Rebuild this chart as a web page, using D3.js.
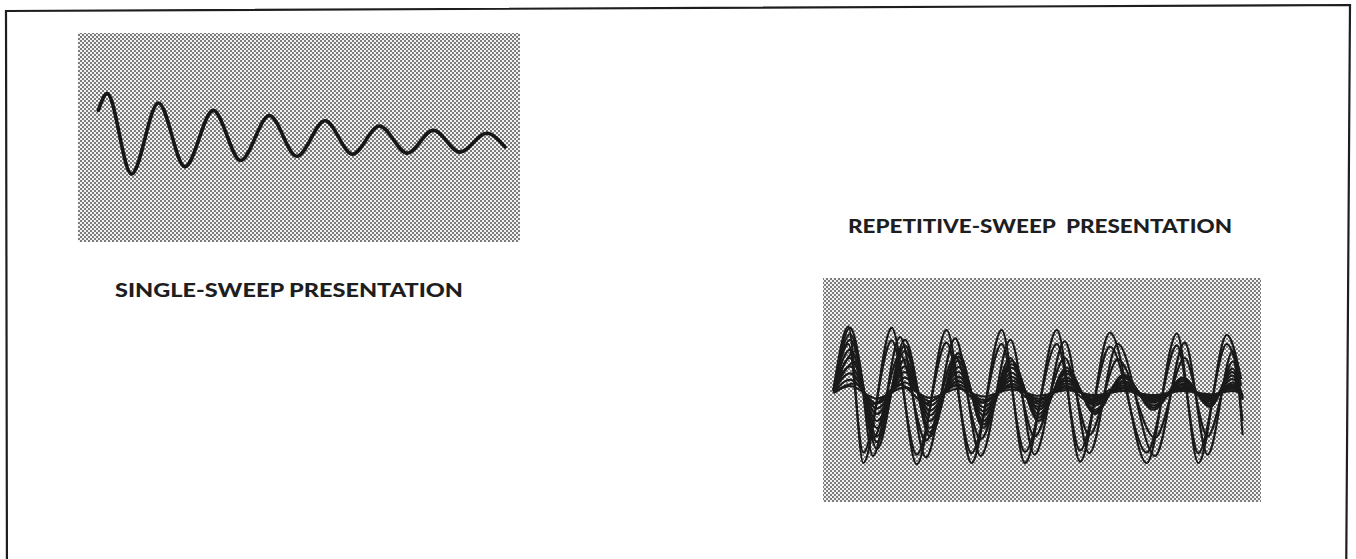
<!DOCTYPE html>
<html>
<head>
<meta charset="utf-8">
<title>Single-sweep / repetitive-sweep</title>
<script src="https://d3js.org/d3.v7.min.js"></script>
<style>
  body { margin: 0; background: #fff; }
  text { font-family: Lato, "Open Sans", sans-serif; font-weight: 900; fill: #1e1e1e; }
</style>
</head>
<body>
<div id="fig"></div>
<script>
// ---- data (time 0..100 across each screen, amplitude in screen units) ----
var singleTimes = [4.6, 6.6, 12.1, 18.2, 24.2, 30.6, 36.8, 43.3, 49.5, 55.9, 62.1, 68.2, 74.5, 80.4, 86.4, 92.5, 96.6];
var singleAmps  = [0.26, 0.42, -0.35, 0.33, -0.28, 0.26, -0.22, 0.21, -0.18, 0.16, -0.16, 0.11, -0.15, 0.07, -0.14, 0.04, -0.09];

// repetitive sweep: the decaying "sheaf" traces share these extremum times
var sheafTimes = [2.4, 6.2, 12.3, 18.7, 24.4, 30.9, 36.6, 43.1, 49.2, 55.6, 62.1, 68.6, 75.4, 82.2, 88.4, 93.5, 95.8];
var sheaf1 = [0.05, 0.93, -0.80, 0.76, -0.62, 0.57, -0.50, 0.46, -0.40, 0.36, -0.30, 0.26, -0.24, 0.22, -0.20, 0.35, -0.10];
var sheaf2 = [0.05, 0.84, -0.70, 0.68, -0.56, 0.52, -0.45, 0.41, -0.35, 0.32, -0.27, 0.24, -0.21, 0.20, -0.18, 0.30, -0.09];
var sheaf3 = [0.04, 0.76, -0.62, 0.60, -0.50, 0.46, -0.40, 0.36, -0.30, 0.28, -0.24, 0.22, -0.18, 0.17, -0.15, 0.25, -0.08];
var sheaf4 = [0.03, 0.62, -0.50, 0.48, -0.40, 0.37, -0.32, 0.29, -0.24, 0.22, -0.18, 0.17, -0.14, 0.13, -0.12, 0.20, -0.06];
var sheaf5 = [0.03, 0.50, -0.40, 0.38, -0.32, 0.30, -0.26, 0.23, -0.20, 0.18, -0.15, 0.14, -0.12, 0.11, -0.10, 0.15, -0.05];
var sheaf6 = [0.02, 0.38, -0.30, 0.30, -0.25, 0.23, -0.20, 0.18, -0.15, 0.14, -0.12, 0.11, -0.09, 0.08, -0.08, 0.12, -0.04];
var sheaf7 = [0.02, 0.28, -0.22, 0.22, -0.18, 0.17, -0.14, 0.13, -0.11, 0.10, -0.09, 0.08, -0.07, 0.06, -0.06, 0.09, -0.03];
var sheaf8 = [0.01, 0.19, -0.15, 0.15, -0.12, 0.12, -0.10, 0.09, -0.08, 0.07, -0.06, 0.06, -0.05, 0.05, -0.04, 0.06, -0.02];
var sheaf9 = [0.00, 0.10, -0.08, 0.08, -0.07, 0.06, -0.05, 0.05, -0.04, 0.04, -0.03, 0.03, -0.03, 0.03, -0.02, 0.03, -0.01];

// the big, barely decaying traces that make the tall loops
var loopTimesA = [2.4, 5.8, 9.2, 15.7, 21.4, 28.2, 33.9, 40.8, 46.1, 53.4, 58.7, 65.5, 73.9, 80.8, 85.7, 92.2, 95.5];
var loopTimesB = [2.4, 7.5, 11.4, 17.6, 23.5, 30.2, 36.0, 42.8, 48.3, 55.2, 60.8, 67.3, 75.8, 82.6, 87.8, 93.6, 95.8];
var loopA1 = [0.05, 0.95, -1.00, 0.93, -1.02, 0.90, -1.00, 0.90, -1.00, 0.90, -0.98, 0.86, -1.00, 0.85, -1.00, 0.83, 0.20];
var loopA2 = [0.04, 0.70, -0.85, 0.75, -0.88, 0.72, -0.86, 0.70, -0.84, 0.70, -0.82, 0.66, -0.85, 0.68, -0.86, 0.70, 0.10];
var loopB1 = [0.03, 0.60, -0.90, 0.80, -0.92, 0.78, -0.90, 0.76, -0.88, 0.74, -0.86, 0.70, -0.90, 0.72, -0.88, 0.60, -0.60];
var loopB2 = [0.02, 0.45, -0.65, 0.55, -0.68, 0.52, -0.66, 0.50, -0.62, 0.50, -0.60, 0.48, -0.64, 0.50, -0.62, 0.45, -0.40];
var loopB3 = [0.01, 0.14, -0.16, 0.12, -0.15, 0.11, -0.14, 0.10, -0.13, 0.10, -0.12, 0.09, -0.12, 0.09, -0.11, 0.08, -0.05];

var repTraces = [
  {t: sheafTimes, a: sheaf1}, {t: sheafTimes, a: sheaf2}, {t: sheafTimes, a: sheaf3},
  {t: sheafTimes, a: sheaf4}, {t: sheafTimes, a: sheaf5}, {t: sheafTimes, a: sheaf6},
  {t: sheafTimes, a: sheaf7}, {t: sheafTimes, a: sheaf8}, {t: sheafTimes, a: sheaf9},
  {t: loopTimesA, a: loopA1}, {t: loopTimesA, a: loopA2},
  {t: loopTimesB, a: loopB1}, {t: loopTimesB, a: loopB2}, {t: loopTimesB, a: loopB3}
];

var labels = ["SINGLE-SWEEP PRESENTATION", "REPETITIVE-SWEEP\u00a0 PRESENTATION"];

var width = 1356, height = 559;
var svg = d3.select("#fig").append("svg").attr("width", width).attr("height", height);

// halftone screen used for the CRT faces
var defs = svg.append("defs");
var pat = defs.append("pattern").attr("id", "screen").attr("patternUnits", "userSpaceOnUse")
    .attr("width", 4).attr("height", 4);
pat.append("rect").attr("width", 4).attr("height", 4).attr("fill", "#f2f2f2");
pat.append("circle").attr("cx", 1).attr("cy", 1).attr("r", 0.9).attr("fill", "#444");
pat.append("circle").attr("cx", 3).attr("cy", 3).attr("r", 0.9).attr("fill", "#444");

// outer frame (slightly skewed like the scan)
svg.append("path").attr("d", "M7,600 L6,11 L1350,5 L1346,600")
    .attr("fill", "none").attr("stroke", "#1e1e1e").attr("stroke-width", 2.2);

// ---- single sweep ----
var left = {x0: 78, x1: 520, y0: 33, y1: 242};
svg.append("rect").attr("x", left.x0).attr("y", left.y0)
    .attr("width", left.x1 - left.x0).attr("height", left.y1 - left.y0).attr("fill", "url(#screen)");

var xL = d3.scaleLinear().domain([0, 100]).range([left.x0, left.x1]);
var yL = d3.scaleLinear().domain([-1, 1]).range([left.y1, left.y0]);
var lineL = d3.line().x(function(d) { return xL(d[0]); }).y(function(d) { return yL(d[1]); })
    .curve(d3.curveMonotoneX);

svg.append("path").datum(d3.zip(singleTimes, singleAmps)).attr("d", lineL)
    .attr("fill", "none").attr("stroke", "#161616").attr("stroke-width", 3.6)
    .attr("stroke-linecap", "round").attr("stroke-linejoin", "round");

// ---- repetitive sweep ----
var right = {x0: 823, x1: 1261, y0: 278, y1: 502};
svg.append("rect").attr("x", right.x0).attr("y", right.y0)
    .attr("width", right.x1 - right.x0).attr("height", right.y1 - right.y0).attr("fill", "url(#screen)");

var xR = d3.scaleLinear().domain([0, 100]).range([right.x0, right.x1]);
var yR = d3.scaleLinear().domain([-1.6, 1.6]).range([right.y1 + 3, right.y0 + 3]);
var lineR = d3.line().x(function(d) { return xR(d[0]); }).y(function(d) { return yR(d[1]); })
    .curve(d3.curveMonotoneX);

svg.append("g").selectAll("path").data(repTraces).enter().append("path")
    .attr("d", function(d) { return lineR(d3.zip(d.t, d.a)); })
    .attr("fill", "none").attr("stroke", "#1a1a1a").attr("stroke-width", 2.1);

// ---- captions ----
svg.append("text").attr("x", 289).attr("y", 297).attr("text-anchor", "middle")
    .attr("font-size", 19).attr("textLength", 348).attr("lengthAdjust", "spacingAndGlyphs")
    .text(labels[0]);
svg.append("text").attr("x", 1040).attr("y", 233).attr("text-anchor", "middle")
    .attr("font-size", 19).attr("textLength", 384).attr("lengthAdjust", "spacingAndGlyphs")
    .text(labels[1]);
</script>
</body>
</html>
